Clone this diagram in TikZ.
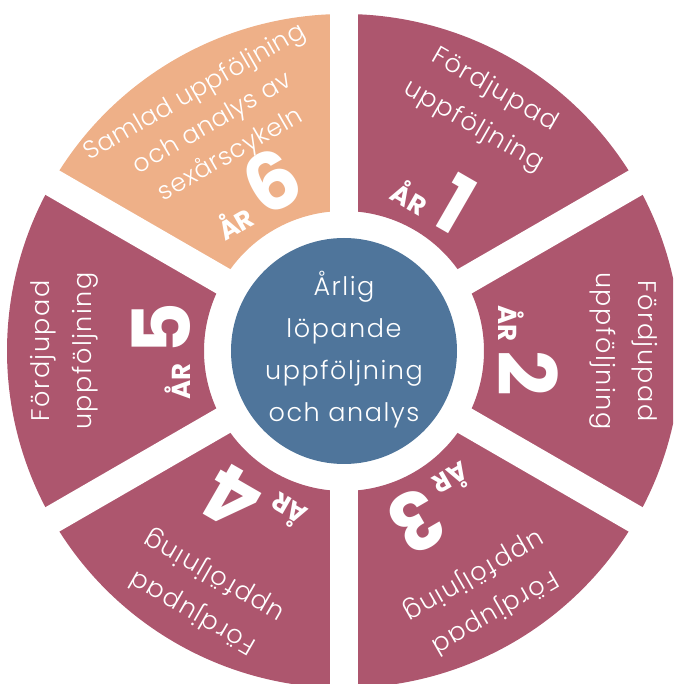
\documentclass[tikz,border=0pt]{standalone}
\usepackage{fontspec}
\setmainfont{Poppins}[UprightFont=* Light,BoldFont=* Bold]
\usetikzlibrary{calc,positioning}
\definecolor{wine}{RGB}{173,86,110}
\definecolor{peach}{RGB}{238,176,136}
\definecolor{steel}{RGB}{79,117,155}
\tikzset{
  segtext/.style={text=white,align=center,inner sep=0pt,
    font=\fontsize{25.5}{42}\selectfont\addfontfeature{LetterSpace=6}},
  yeartag/.style={text=white,anchor=base,inner sep=0pt,font=\bfseries\fontsize{26}{30}\selectfont},
  gapline/.style={white,line width=28pt},
  hub/.style={circle,fill=steel,minimum size=226pt,inner sep=0pt}
}
\newcommand{\yearno}[1]{ÅR\hspace{9pt}{\fontsize{80}{80}\selectfont #1}}

\begin{document}
\begin{tikzpicture}[x=1pt,y=1pt]
    \pgfmathsetmacro{\rin}{140}
    \pgfmathsetmacro{\rout}{337}
    \clip (-344,-333) rectangle (329,351);
    % the six years
    \foreach \a/\col in {60/wine,0/wine,-60/wine,-120/wine,180/wine,120/peach}
      \fill[\col] (\a-30:\rin) arc[start angle=\a-30,delta angle=60,radius=\rin]
        -- (\a+30:\rout) arc[start angle=\a+30,delta angle=-60,radius=\rout] -- cycle;
    \foreach \a in {30,90,...,330}
      \draw[gapline] (0,0) -- (\a:360);
    \node[hub] (hub) at (0,0) {};
    \node[segtext] (hubtext) at (0,1) {Årlig\\löpande\\uppföljning\\och analys};
    % labels
    \foreach \a/\n in {60/1,0/2,-60/3,-120/4,180/5} {
      \node[segtext,rotate=\a-90] (txt\n) at (\a:280) {Fördjupad\\uppföljning};
      \node[yeartag,rotate=\a-90] (year\n) at (\a:154) {\yearno{\n}};
    }
    \node[segtext,rotate=30,font=\fontsize{25}{36}\selectfont\addfontfeature{LetterSpace=2}]
      (txt6) at (120:262) {Samlad uppföljning\\och analys av\\sexårscykeln};
    \node[yeartag,rotate=30] (year6) at (120:154) {\yearno{6}};
\end{tikzpicture}
\end{document}
